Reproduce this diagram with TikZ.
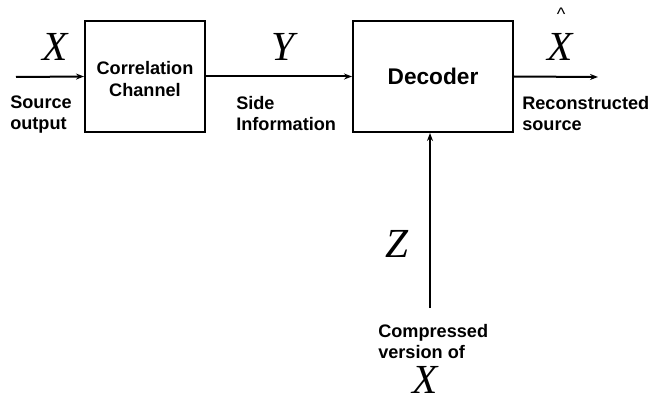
\documentclass[tikz,border=0pt]{standalone}
\usepackage{fontspec}
\setmainfont{Liberation Sans}
\newfontfamily\symfont{Liberation Serif}
\usetikzlibrary{arrows.meta}
\tikzset{
  blk/.style={draw, line width=1.5pt, inner sep=0pt},
  flow/.style={line width=1.5pt, -{Stealth[length=6pt,width=4.5pt]}},
  lbl/.style={font=\bfseries\fontsize{13.6}{15.8}\selectfont, align=left, inner sep=0pt, anchor=north west},
  sym/.style={font=\symfont\itshape\fontsize{31}{31}\selectfont, inner sep=0pt}
}
\begin{document}
\begin{tikzpicture}[x=0.75pt,y=-0.75pt]
\useasboundingbox (0,0) rectangle (652,399);
% blocks
\node[blk, minimum width=120*0.75pt, minimum height=111*0.75pt] (chan) at (145,76.5) {};
\node[align=center, inner sep=0pt, font=\bfseries\fontsize{13.6}{17.2}\selectfont] (chantxt) at (145,79) {Correlation\\Channel};
\node[blk, minimum width=160*0.75pt, minimum height=111*0.75pt, font=\bfseries\fontsize{17}{20}\selectfont] (dec) at (433,76.5) {Decoder};
% connector end points
\coordinate (src) at (16,77);
\coordinate (out) at (598,77);
\coordinate (zin) at (430,308);
% signals
\draw[flow] (src) -- (chan.west);
\draw[flow] (chan.east) -- (dec.west);
\draw[flow] (dec.east) -- (out);
\draw[flow] (zin) -- (dec.south -| zin);
% symbols
\node[sym] (xs) at (55,47) {X};
\node[sym] (ys) at (283,47) {Y};
\node[sym] (xh) at (560,47) {X};
\node[font=\fontsize{13.6}{13.6}\selectfont, inner sep=0pt] (hat) at (561,14) {\^{}};
\node[sym] (zs) at (397,244) {Z};
\node[sym] (xb) at (425,380) {X};
% labels
\node[lbl] (lsrc) at (10,96) {Source\\output};
\node[lbl] (lside) at (236,96) {Side\\Information};
\node[lbl] (lrec) at (522,96) {Reconstructed\\source};
\node[lbl] (lcomp) at (378,324) {Compressed\\version of};
\end{tikzpicture}
\end{document}
